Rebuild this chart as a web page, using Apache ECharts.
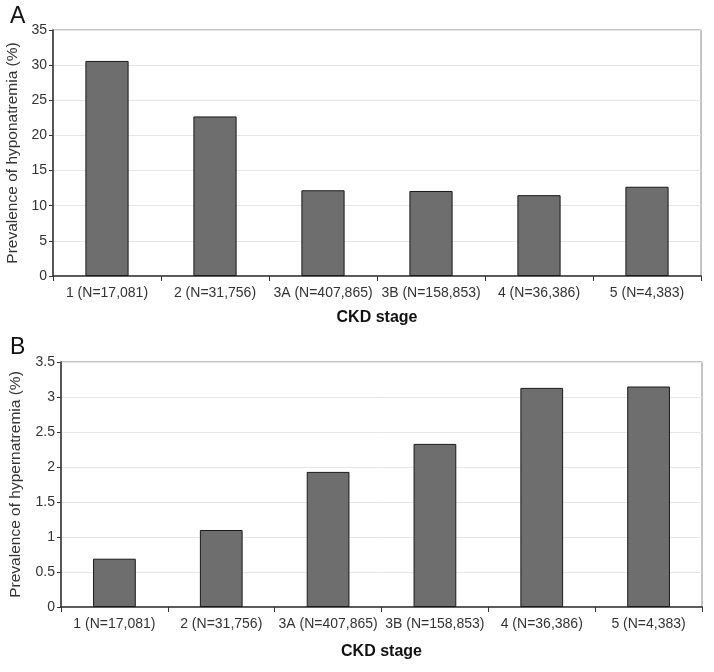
<!DOCTYPE html>
<html><head><meta charset="utf-8">
<script src="https://cdn.jsdelivr.net/npm/echarts@6/dist/echarts.min.js"></script>
<style>html,body{margin:0;padding:0;background:#fff}#c{width:714px;height:672px}</style>
</head><body><div id="c"></div>
<script>
const categories = ['1 (N=17,081)','2 (N=31,756)','3A (N=407,865)','3B (N=158,853)','4 (N=36,386)','5 (N=4,383)'];
const hypoValues = [30.6, 22.7, 12.2, 12.1, 11.5, 12.7];
const hyperValues = [0.69, 1.10, 1.93, 2.33, 3.13, 3.15];
const panelLabels = ['A','B'];
const yTitles = ['Prevalence of hyponatremia (%)','Prevalence of hypernatremia (%)'];
const xTitle = 'CKD stage';

const font = 'Liberation Sans, Arial, sans-serif';
const chart = echarts.init(document.getElementById('c'));
function xAxis(i,gap){return {gridIndex:i,type:'category',data:categories,
  axisLine:{lineStyle:{color:'#333',width:1.5}},axisTick:{show:true,length:5,lineStyle:{color:'#333'}},
  axisLabel:{color:'#333',fontSize:14,fontFamily:font,margin:10,interval:0},
  name:xTitle,nameLocation:'middle',nameGap:gap,nameTextStyle:{color:'#111',fontSize:16,fontWeight:'bold',fontFamily:font},
  splitLine:{show:false}};}
function yAxis(i,max,interval,gap){return {gridIndex:i,type:'value',min:0,max:max,interval:interval,
  axisLine:{show:true,lineStyle:{color:'#333',width:1.5}},axisTick:{show:true,length:4,lineStyle:{color:'#333'}},
  axisLabel:{color:'#333',fontSize:14,fontFamily:font,margin:6},
  splitLine:{show:true,lineStyle:{color:'#e6e6e6',width:1}},
  name:yTitles[i],nameLocation:'middle',nameGap:gap,nameTextStyle:{color:'#333',fontSize:15.5,fontFamily:font}};}
chart.setOption({
  animation:false,
  title:[{text:panelLabels[0],left:5,top:0,textStyle:{fontSize:23,fontWeight:'normal',color:'#111',fontFamily:font}},
         {text:panelLabels[1],left:5,top:331,textStyle:{fontSize:23,fontWeight:'normal',color:'#111',fontFamily:font}}],
  grid:[{left:53,right:13,top:30,bottom:396,show:true,borderColor:'#888',borderWidth:1,containLabel:false,outerBoundsMode:'none'},
        {left:61,right:12,top:362,bottom:65,show:true,borderColor:'#888',borderWidth:1,containLabel:false,outerBoundsMode:'none'}],
  xAxis:[xAxis(0,34),xAxis(1,37)],
  yAxis:[yAxis(0,35,5,27),yAxis(1,3.5,0.5,37)],
  series:[
    {type:'bar',xAxisIndex:0,yAxisIndex:0,data:hypoValues,barWidth:'40%',itemStyle:{color:'#6e6e6e',borderColor:'#1a1a1a',borderWidth:1}},
    {type:'bar',xAxisIndex:1,yAxisIndex:1,data:hyperValues,barWidth:'40%',itemStyle:{color:'#6e6e6e',borderColor:'#1a1a1a',borderWidth:1}}
  ]
});
</script></body></html>
